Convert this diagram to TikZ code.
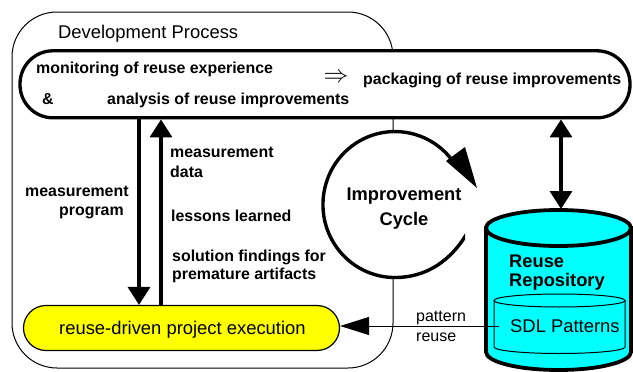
\documentclass[tikz,border=0pt]{standalone}
\usepackage{fontspec}
\setmainfont{Liberation Sans}
\usetikzlibrary{arrows.meta,calc,shapes.geometric}
\definecolor{repocyan}{RGB}{0,255,255}
\definecolor{execyellow}{RGB}{255,255,0}
\tikzset{
 flowdown/.style={line width=3.5pt,-{Triangle[length=18pt,width=22pt]}},
 flowboth/.style={line width=3.5pt,{Triangle[length=18pt,width=22pt]}-{Triangle[length=18pt,width=22pt]}},
 reuseflow/.style={line width=1pt,-{Triangle[length=29pt,width=18pt]}},
 lab/.style={font=\bfseries\fontsize{15.9}{18}\selectfont,inner sep=0pt,anchor=base west},
 biglab/.style={font=\bfseries\fontsize{18.3}{20}\selectfont,inner sep=0pt},
 plain/.style={font=\fontsize{18.4}{20}\selectfont,inner sep=0pt,anchor=base west},
 small/.style={font=\fontsize{16}{18}\selectfont,inner sep=0pt,anchor=base west},
}
\begin{document}
\begin{tikzpicture}[x=1pt,y=-1pt]
\useasboundingbox (0,0) rectangle (633,372);
% outer process box
\node[draw,line width=1pt,rounded corners=45pt,minimum width=381pt,minimum height=356pt,inner sep=0pt] (process) at (202.5,190) {};
\node[plain] (devproc) at (58,38.5) {Development Process};
% improvement cycle
\node[ellipse,fill=white,minimum width=144pt,minimum height=146pt,inner sep=0pt] (cyclebg) at (395,204.5) {};
\begin{scope}
\clip (300,120) rectangle (465,300);
\draw[line width=3.4pt] (452,160) arc[start angle=-37.6,end angle=-270,x radius=72,y radius=73]
  .. controls (425,277.5) and (452,262) .. (470,228);
\end{scope}
\fill (446,161) -- (465,147) -- (477,188) -- cycle;
\node[biglab,anchor=base] (impr) at (404,200) {Improvement};
\node[biglab,anchor=base] (cyc) at (404,225) {Cycle};
% top band
\node[draw,line width=3.3pt,fill=white,rounded corners=33pt,minimum width=610pt,minimum height=67pt,inner sep=0pt] (band) at (325,84.3) {};
\node[lab] (mon) at (36,74) {monitoring of reuse experience};
\node[lab] (amp) at (42,104) {\&};
\node[lab] (ana) at (107,104) {analysis of reuse improvements};
\node[lab] (pack) at (363,84) {packaging of reuse improvements};
\node[font=\fontsize{27}{27}\selectfont,inner sep=0pt] (impl) at (336,78) {$\Rightarrow$};
% execution
\node[draw,line width=1.2pt,fill=execyellow,rounded corners=22.5pt,minimum width=316pt,minimum height=45pt,inner sep=0pt] (exec) at (181.5,328) {};
\node[plain] (exect) at (59,334) {reuse-driven project execution};
% repository
\coordinate (rtop) at (558.5,228);
\path[fill=repocyan,draw=black,line width=3.8pt]
  (486,228) -- (486,352) arc[start angle=180,end angle=0,x radius=72.5,y radius=18] -- (631,228) -- cycle;
\draw[fill=repocyan,line width=3.8pt] (rtop) ellipse[x radius=72.5,y radius=18];
\node[biglab,anchor=base west] (reuse) at (509,267) {Reuse};
\node[biglab,anchor=base west] (repo) at (509,286) {Repository};
% inner cylinder
\coordinate (itop) at (559.5,300.5);
\draw[line width=1pt] (494,300.5) -- (494,347) arc[start angle=180,end angle=0,x radius=65.5,y radius=6.5] -- (625,300.5);
\draw[line width=1pt] (itop) ellipse[x radius=65.5,y radius=6.5];
\node[plain] (sdl) at (510,332) {SDL Patterns};
% flows
\coordinate (xa) at (139,0);
\coordinate (xb) at (161,0);
\coordinate (xc) at (561,0);
\coordinate (pat) at (499,326);
\draw[flowdown] (xa |- band.south) -- (xa |- exec.north);
\draw[flowdown] (xb |- exec.north) -- (xb |- band.south);
\draw[flowboth] (xc |- band.south) -- (561,209);
\draw[reuseflow] (pat) -- (exec.east |- pat);
% labels
\node[lab] (mp1) at (25,196) {measurement};
\node[lab] (mp2) at (59,215) {program};
\node[lab] (md1) at (170,157) {measurement};
\node[lab] (md2) at (170,177) {data};
\node[lab] (ll) at (171,221) {lessons learned};
\node[lab] (sf1) at (172,261) {solution findings for};
\node[lab] (sf2) at (172,279) {premature artifacts};
\node[small] (pr1) at (416,321) {pattern};
\node[small] (pr2) at (416,341) {reuse};
\end{tikzpicture}
\end{document}
